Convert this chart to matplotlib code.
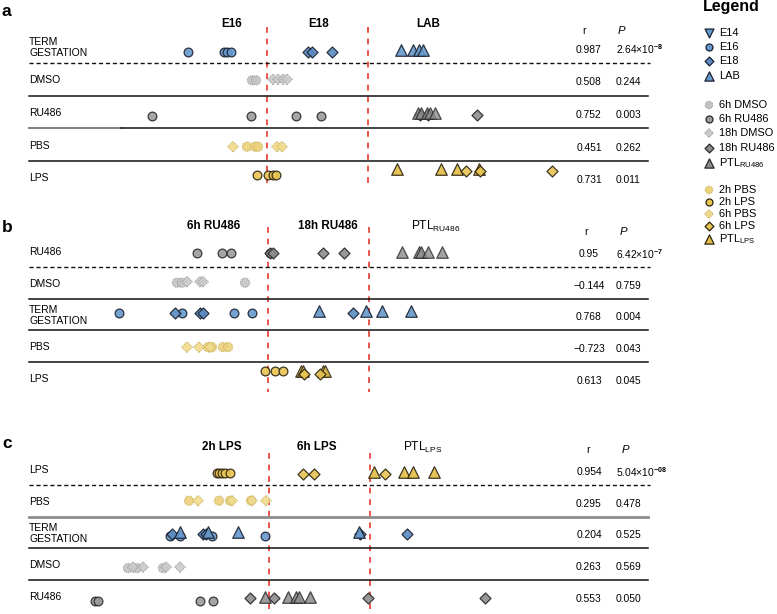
import matplotlib
matplotlib.use('Agg')
import matplotlib.pyplot as plt

plt.rcParams['font.family'] = ['Liberation Sans', 'DejaVu Sans']
plt.rcParams['mathtext.fontset'] = 'custom'
plt.rcParams['mathtext.rm'] = 'Liberation Sans'
plt.rcParams['mathtext.it'] = 'Liberation Sans:italic'
plt.rcParams['mathtext.bf'] = 'Liberation Sans:bold'

W, H = 777, 614

# ---------------- data ----------------
A_ROWS = ['TERM\nGESTATION', 'DMSO', 'RU486', 'PBS', 'LPS']
A_R = ['0.987', '0.508', '0.752', '0.451', '0.731']
A_P = [r'2.64$\times$10$^{\mathbf{-8}}$', '0.244', '0.003', '0.262', '0.011']
A_HEAD = ['E16', 'E18', 'LAB']
A_CUTS = [267, 368]

B_ROWS = ['RU486', 'DMSO', 'TERM\nGESTATION', 'PBS', 'LPS']
B_R = ['0.95', '\u22120.144', '0.768', '\u22120.723', '0.613']
B_P = [r'6.42$\times$10$^{\mathbf{-7}}$', '0.759', '0.004', '0.043', '0.045']
B_HEAD = ['6h RU486', '18h RU486', r'PTL$_{\mathregular{RU486}}$']
B_CUTS = [268, 369]

C_ROWS = ['LPS', 'PBS', 'TERM\nGESTATION', 'DMSO', 'RU486']
C_R = ['0.954', '0.295', '0.204', '0.263', '0.553']
C_P = [r'5.04$\times$10$^{\mathbf{-08}}$', '0.478', '0.525', '0.569', '0.050']
C_HEAD = ['2h LPS', '6h LPS', r'PTL$_{\mathregular{LPS}}$']
C_CUTS = [269, 370]

# panel a scores
A_TERM_E16 = [188, 224, 227, 231]
A_TERM_E18 = [308, 312, 332]
A_TERM_LAB = [401, 413, 419, 423]
A_DMSO_6H = [252, 256]
A_DMSO_18H = [273, 278, 283, 287]
A_RU_6H = [152, 251, 296, 321]
A_RU_18H = [420, 428, 477]
A_RU_PTL = [418, 421, 427, 430, 435]
A_PBS_2H = [247, 255, 258]
A_PBS_6H = [233, 277, 282]
A_LPS_2H = [257, 268, 273, 276]
A_LPS_6H = [466, 480, 552]
A_LPS_PTL = [397, 441, 457, 479]

# panel b scores
B_RU_6H = [197, 222, 231, 270]
B_RU_18H = [270, 273, 323, 344]
B_RU_PTL = [402, 419, 421, 428, 442]
B_DMSO_6H = [177, 182, 245]
B_DMSO_18H = [187, 200, 203]
B_TERM_E16 = [119, 182, 234, 252]
B_TERM_E18 = [175, 200, 203, 353]
B_TERM_LAB = [319, 366, 382, 411]
B_PBS_2H = [208, 212, 223, 228]
B_PBS_6H = [187, 199, 210]
B_LPS_2H = [265, 275, 283]
B_LPS_PTL = [301, 303, 323, 325]
B_LPS_6H = [304, 320]

# panel c scores
C_LPS_2H = [217, 219, 222, 225, 230]
C_LPS_6H = [303, 314, 385]
C_LPS_PTL = [374, 404, 413, 434]
C_PBS_2H = [189, 219, 230, 251]
C_PBS_6H = [198, 232, 252, 266]
C_TERM_E16 = [170, 180, 212, 265]
C_TERM_E18 = [172, 203, 206, 360, 407]
C_TERM_LAB = [180, 208, 238, 359]
C_DMSO_6H = [128, 137, 163]
C_DMSO_18H = [133, 143, 166, 180]
C_RU_6H = [95, 98, 200, 213]
C_RU_18H = [250, 274, 368, 485]
C_RU_PTL = [265, 288, 296, 299, 310]

# legend
LEG_KEYS = ['E14', 'E16', 'E18', 'LAB',
            '6hDMSO', '6hRU', '18hDMSO', '18hRU', 'PTLRU',
            '2hPBS', '2hLPS', '6hPBS', '6hLPS', 'PTLLPS']
LEG_LABELS = ['E14', 'E16', 'E18', 'LAB',
              '6h DMSO', '6h RU486', '18h DMSO', '18h RU486',
              r'PTL$_{\mathregular{RU486}}$',
              '2h PBS', '2h LPS', '6h PBS', '6h LPS', r'PTL$_{\mathregular{LPS}}$']

# ---------------- styles ----------------
BLUE = '#6699cc'
STY = {
    'E14': dict(marker='v', fc=BLUE, ec='#1a2130', size=8.0, fuzzy=False),
    'E16': dict(marker='o', fc=BLUE, ec='#1a2130', size=6.3, fuzzy=False),
    'E18': dict(marker='D', fc='#5b8cc4', ec='#1a2130', size=5.6, fuzzy=False),
    'LAB': dict(marker='^', fc=BLUE, ec='#1a2130', size=8.3, fuzzy=False),
    '6hDMSO': dict(marker='o', fc='#c4c4c4', ec='#a0a0a0', size=6.6, fuzzy=True),
    '6hRU': dict(marker='o', fc='#9b9b9b', ec='#2a2a2a', size=6.3, fuzzy=False),
    '18hDMSO': dict(marker='D', fc='#cacaca', ec='#a0a0a0', size=5.4, fuzzy=True),
    '18hRU': dict(marker='D', fc='#8e8e8e', ec='#2a2a2a', size=5.6, fuzzy=False),
    'PTLRU': dict(marker='^', fc='#8c8c8c', ec='#2a2a2a', size=8.3, fuzzy=False),
    '2hPBS': dict(marker='o', fc='#ecd27a', ec='#ccb260', size=6.6, fuzzy=True),
    '2hLPS': dict(marker='o', fc='#e9c552', ec='#2b2410', size=6.3, fuzzy=False),
    '6hPBS': dict(marker='D', fc='#f1db8c', ec='#ccb260', size=5.4, fuzzy=True),
    '6hLPS': dict(marker='D', fc='#e8c453', ec='#2b2410', size=5.6, fuzzy=False),
    'PTLLPS': dict(marker='^', fc='#e3bd45', ec='#2b2410', size=8.3, fuzzy=False),
}


def draw(ax, xs, y, key, alpha=0.9, scale=1.0):
    st = STY[key]
    kw = dict(marker=st['marker'], s=(st['size'] * scale) ** 2,
              facecolors=st['fc'], edgecolors=st['ec'], zorder=3, alpha=alpha)
    if st['fuzzy']:
        kw.update(linewidths=0.8, linestyle=(0, (1.2, 0.8)))
    else:
        kw.update(linewidths=0.9)
    ys = y if isinstance(y, list) else [y] * len(xs)
    ax.scatter(xs, ys, **kw)


fig = plt.figure(figsize=(W / 100, H / 100), dpi=100)


def make_panel(top, bottom, row0, sp):
    ax = fig.add_axes([0, 1 - bottom / H, 1, (bottom - top) / H])
    ax.set_xlim(0, W)
    ax.set_ylim((bottom - row0) / sp, (top - row0) / sp)
    ax.axis('off')
    py = lambda ypx: (ypx - row0) / sp
    return ax, py


def panel_common(ax, py, letter, letter_y, rows, rvals, pvals, heads, head_x,
                 head_y, head_bold, cuts, cut_span, seps, rp_y, lab_dy=1.0,
                 rp_dy=3.0, sp=32.0):
    ax.text(2, py(letter_y), letter, fontsize=12.5, fontweight='bold',
            ha='left', va='center')
    for i, lab in enumerate(rows):
        ax.text(29, i + lab_dy / sp, lab, fontsize=7.5, ha='left',
                va='center', linespacing=1.1)
        ax.text(589, i + rp_dy / sp, rvals[i], fontsize=7.4, ha='center',
                va='center')
        ax.text(616, i + rp_dy / sp, pvals[i], fontsize=7.4, ha='left',
                va='center')
    for txt, hx, b in zip(heads, head_x, head_bold):
        ax.text(hx, py(head_y), txt, fontsize=8.4 if b else 8.6,
                fontweight='bold' if b else 'normal', ha='center',
                va='center')
    ax.text(rp_y[0], py(rp_y[1]), 'r', fontsize=7.6, ha='center', va='center')
    ax.text(rp_y[0] + 37, py(rp_y[1]), 'P', fontsize=8.2, style='italic',
            ha='center', va='center')
    ax.vlines(cuts, py(cut_span[0]), py(cut_span[1]), colors='#e8473d',
              linestyles=(0, (3.2, 3.2)), linewidth=1.3, zorder=1)
    for i, kind in enumerate(seps):
        y = i + 0.5
        if kind == 'dash':
            ax.plot([29, 650], [y, y], color='#111111', lw=1.0,
                    linestyle=(0, (3, 2)), zorder=2)
        elif kind == 'solid':
            ax.plot([29, 648], [y, y], color='#111111', lw=1.1, zorder=2)
        elif kind == 'split':
            ax.plot([29, 121], [y, y], color='#808080', lw=1.4, zorder=2)
            ax.plot([121, 648], [y, y], color='#111111', lw=1.1, zorder=2)
        elif kind == 'gray':
            ax.plot([29, 648], [y, y], color='#8c8c8c', lw=2.0, zorder=2)


# ---------- panel a ----------
spa = 32.7
axa, pya = make_panel(0, 190, 46.6, spa)
panel_common(axa, pya, 'a', 11, A_ROWS, A_R, A_P, A_HEAD, [232, 319, 428], 24,
             [True, True, True], A_CUTS, (27, 188),
             ['dash', 'solid', 'split', 'solid'], (584, 31), sp=spa)
d = lambda px: px / spa
draw(axa, A_TERM_E16, 0 + d(5), 'E16')
draw(axa, A_TERM_E18, 0 + d(5), 'E18')
draw(axa, A_TERM_LAB, 0 + d(3.5), 'LAB')
draw(axa, A_DMSO_6H, 1 + d(1), '6hDMSO')
draw(axa, A_DMSO_18H, 1 + d(0), '18hDMSO')
draw(axa, A_RU_6H, 2 + d(4), '6hRU')
draw(axa, A_RU_18H, 2 + d(3), '18hRU')
draw(axa, A_RU_PTL, 2 + d(1), 'PTLRU', alpha=0.8)
draw(axa, A_PBS_2H, 3 + d(2), '2hPBS')
draw(axa, A_PBS_6H, 3 + d(2), '6hPBS')
draw(axa, A_LPS_2H, 4 + d(-2.5), '2hLPS')
draw(axa, A_LPS_PTL, 4 + d(-8), 'PTLLPS')
draw(axa, A_LPS_6H, 4 + d(-6.5), '6hLPS')

# ---------- panel b ----------
spb = 31.7
axb, pyb = make_panel(190, 395, 251, spb)
panel_common(axb, pyb, 'b', 227, B_ROWS, B_R, B_P, B_HEAD, [214, 328, 436],
             226, [True, True, False], B_CUTS, (227, 392),
             ['dash', 'solid', 'solid', 'solid'], (586, 232), sp=spb)
d = lambda px: px / spb
draw(axb, B_RU_6H, 0 + d(2), '6hRU')
draw(axb, B_RU_18H, 0 + d(2), '18hRU')
draw(axb, B_RU_PTL, 0 + d(1), 'PTLRU', alpha=0.8)
draw(axb, B_DMSO_6H, 1 + d(0), '6hDMSO')
draw(axb, B_DMSO_18H, 1 + d(-1), '18hDMSO')
draw(axb, B_TERM_E16, 2 + d(-1), 'E16')
draw(axb, B_TERM_E18, 2 + d(-1), 'E18')
draw(axb, B_TERM_LAB, 2 + d(-3), 'LAB')
draw(axb, B_PBS_2H, 3 + d(1), '2hPBS')
draw(axb, B_PBS_6H, 3 + d(1), '6hPBS')
draw(axb, B_LPS_2H, 4 + d(-7), '2hLPS')
draw(axb, B_LPS_PTL, 4 + d(-7), 'PTLLPS', alpha=0.85)
draw(axb, B_LPS_6H, 4 + d(-4), '6hLPS')

# ---------- panel c ----------
spc = 31.7
axc, pyc = make_panel(395, 614, 469, spc)
panel_common(axc, pyc, 'c', 443, C_ROWS, C_R, C_P, C_HEAD, [222, 317, 423],
             447, [True, True, False], C_CUTS, (453, 614),
             ['dash', 'gray', 'solid', 'solid'], (588, 450), sp=spc)
d = lambda px: px / spc
draw(axc, C_LPS_2H, 0 + d(4), '2hLPS')
draw(axc, C_LPS_PTL, 0 + d(3), 'PTLLPS')
draw(axc, C_LPS_6H, 0 + d(5), '6hLPS')
draw(axc, C_PBS_2H, 1 + d(0), '2hPBS')
draw(axc, C_PBS_6H, 1 + d(0), '6hPBS')
draw(axc, C_TERM_E16, 2 + d(4), 'E16')
draw(axc, C_TERM_E18, 2 + d(2), 'E18')
draw(axc, C_TERM_LAB, 2 + d(0), 'LAB')
draw(axc, C_DMSO_6H, 3 + d(4), '6hDMSO')
draw(axc, C_DMSO_18H, 3 + d(3), '18hDMSO')
draw(axc, C_RU_6H, 4 + d(5), '6hRU')
draw(axc, C_RU_18H, 4 + d(2), '18hRU')
draw(axc, C_RU_PTL, 4 + d(1), 'PTLRU', alpha=0.85)

# ---------- legend (manual key) ----------
lax = fig.add_axes([690 / W, 1 - 250 / H, 87 / W, 250 / H])
lax.set_xlim(690, 777)
lax.set_ylim(250, 0)
lax.axis('off')
lax.text(703, 6, 'Legend', fontsize=11.5, fontweight='bold', ha='left',
         va='center')
LEG_Y = [33, 47, 61, 76, 105, 119, 133, 148, 163, 190, 202, 214, 226, 239]
for k, lab, y in zip(LEG_KEYS, LEG_LABELS, LEG_Y):
    draw(lax, [709], y, k, alpha=1.0, scale=0.8)
    lax.text(719, y, lab, fontsize=7.9, ha='left', va='center')

fig.savefig('out.png', dpi=100)
